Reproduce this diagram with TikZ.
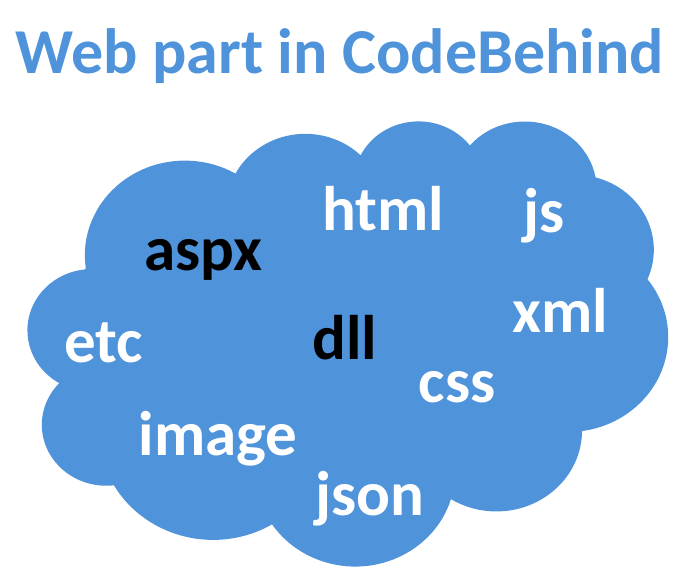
\documentclass[tikz,border=0pt]{standalone}
\usepackage{fontspec}
\setmainfont{Carlito}
\usepackage{tikz}
\definecolor{cloudblue}{RGB}{79,147,219}
\tikzstyle{titletext}=[inner sep=0pt,anchor=base,text=cloudblue,font=\bfseries\fontsize{64}{70}\selectfont]
\tikzstyle{word}=[inner sep=0pt,anchor=base,text=white,font=\bfseries\fontsize{63}{70}\selectfont]
\tikzstyle{darkword}=[word,text=black]

\begin{document}
\begin{tikzpicture}[x=1pt,y=-1pt]
        \useasboundingbox (0,0) rectangle (695,578);
        \node[titletext] (T) at (340, 74) {Web part in CodeBehind};
        \begin{scope}[xshift=28pt,yshift=-120pt,x=1.48148pt,y=-1.03009pt]
            \fill[cloudblue] (39.00,143.70)
                arc[x radius=67.53, y radius=91.90, start angle=-187.75, end angle=-59.65]
                arc[x radius=53.33, y radius=72.67, start angle=-152.03, end angle=-45.49]
                arc[x radius=43.65, y radius=59.45, start angle=-153.48, end angle=-37.33]
                arc[x radius=48.57, y radius=65.95, start angle=-139.70, end angle=-10.21]
                arc[x radius=53.33, y radius=72.73, start angle=-74.77, end angle=23.21]
                arc[x radius=67.75, y radius=92.20, start angle=-37.52, end angle=81.86]
                arc[x radius=57.85, y radius=78.67, start angle=0.46, end angle=121.98]
                arc[x radius=67.52, y radius=92.15, start angle=16.85, end angle=146.25]
                arc[x radius=77.20, y radius=105.43, start angle=59.00, end angle=150.17]
                arc[x radius=43.60, y radius=59.18, start angle=-276.69, end angle=-136.92]
                arc[x radius=43.45, y radius=59.45, start angle=-239.63, end angle=-95.89]
                -- cycle;
        \end{scope}
        \node[word] (html) at (383, 230) {html};
        \node[word] (js) at (544, 232) {js};
        \node[darkword] (aspx) at (203, 270) {aspx};
        \node[word] (xml) at (560, 332) {xml};
        \node[word] (etc) at (104, 362) {etc};
        \node[darkword] (dll) at (345, 359) {dll};
        \node[word] (css) at (457, 402) {css};
        \node[word] (image) at (218, 455) {image};
        \node[word] (json) at (370, 515) {json};
    \end{tikzpicture}
\end{document}
